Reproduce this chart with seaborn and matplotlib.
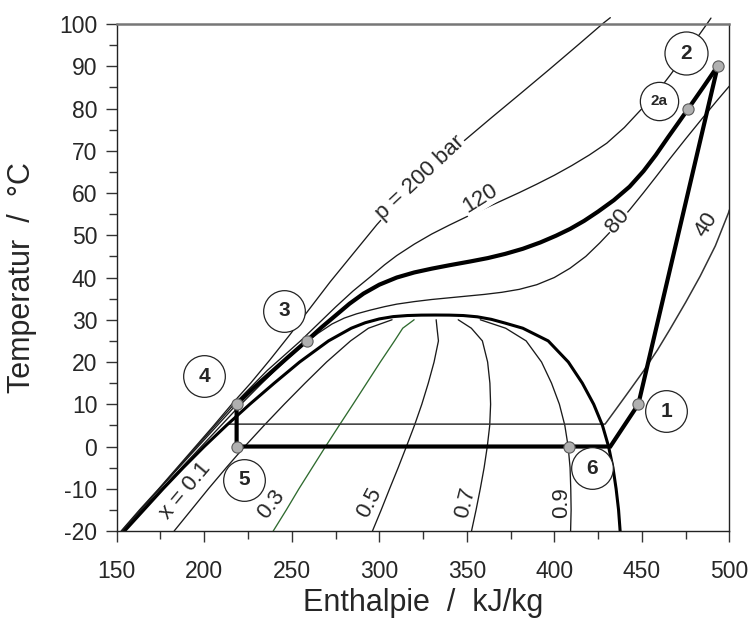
import numpy as np
import pandas as pd
import matplotlib
matplotlib.use("Agg")
import matplotlib.pyplot as plt
import seaborn as sns

# ---------------- data ----------------
# saturation dome (liquid side -> critical point -> vapour side)
dome_h = [154.5, 165.5, 176.5, 188, 200, 212.7, 226, 240, 254.5, 271, 284, 292, 300, 308,
          316, 324, 332, 340, 348, 356, 364, 372, 382, 396.5, 408, 416, 422.5, 427.5,
          431, 433.5, 435.3, 436.7, 437.6]
dome_T = [-20, -15, -10, -5, 0, 5, 10, 15, 20, 25, 28, 29.3, 30.2, 30.75,
          31.0, 31.1, 31.12, 31.1, 31.0, 30.7, 30.1, 29.2, 28, 25, 20, 15, 10, 5,
          0, -5, -10, -15, -20]

# lines of constant vapour quality x
q_T = [-20, -15, -10, -5, 0, 5, 10, 15, 20, 25, 28, 30]
q01_h = [182.8, 192.6, 202.4, 212.6, 223.1, 234.2, 245.7, 257.6, 269.9, 283.6, 293.8, 307.3]
q03_h = [239.4, 246.9, 254.1, 261.7, 269.3, 277.1, 285.0, 292.8, 300.6, 308.7, 313.4, 319.9]
q05_h = [296.1, 301.1, 305.9, 310.8, 315.5, 320.1, 324.3, 328.0, 331.3, 333.8, 333.0, 332.5]
q07_h = [352.7, 355.3, 357.7, 359.9, 361.7, 363.1, 363.6, 363.2, 361.9, 358.9, 352.6, 345.1]
q09_h = [409.3, 409.6, 409.4, 409.0, 407.9, 406.0, 402.9, 398.4, 392.7, 383.9, 372.2, 357.7]

# isobars
p200_h = [152.5, 163, 174, 184.5, 195, 205.5, 215.7, 226.5, 237.5, 249, 260, 272, 285,
          298.6, 311, 323.5, 336, 348, 364, 380, 397, 414, 428, 432]
p200_T = [-20, -15, -10, -5, 0, 5, 10, 15, 20.5, 26.5, 32.5, 39, 45.6,
          52.5, 58.2, 63.2, 67.9, 72.2, 77.8, 83.3, 89.2, 95.2, 100.2, 101.5]
p120_h = [153, 169, 185, 201, 217, 236, 255, 265, 275, 285, 295, 303, 310, 320, 330, 340,
          350, 360, 370, 380, 390, 400, 410, 420, 430, 440, 449, 458, 466, 474, 482,
          487.5, 489.5]
p120_T = [-20, -12.5, -5, 2.5, 10, 18, 25, 29, 33, 36.8, 40.2, 43, 45.2, 47.9, 50.3, 52.4,
          54.4, 56.3, 58.2, 60.1, 62.1, 64.2, 66.5, 69, 71.8, 75.5, 79.5, 83.5, 87.8, 92.3,
          97, 100.2, 101.4]
p100_liq_h = [153, 169, 185.5, 202, 218.5]
p100_liq_T = [-20, -12.5, -5, 2.5, 10]
p80_h = [153.5, 170, 187, 204, 221, 233, 245, 256, 265, 273, 280, 287, 295, 303, 310, 320,
         330, 340, 350, 360, 370, 380, 390, 400, 409, 418, 426, 434, 443, 451, 458, 466,
         475, 485, 493, 500]
p80_T = [-20, -12.5, -5, 2.5, 10, 15, 19.8, 23.8, 26.8, 29, 30.4, 31.4, 32.3, 33.1, 33.7,
         34.3, 34.8, 35.2, 35.6, 36.0, 36.5, 37.2, 38.3, 40, 42.2, 45, 48.2, 51.7, 56,
         60.1, 63.8, 68.1, 72.8, 77.9, 81.9, 85.3]
p40_h = [213.8, 429, 435, 442, 451, 459, 466, 475, 483.3, 492, 499.5, 500]
p40_T = [5.3, 5.3, 8.7, 12.7, 17.9, 22.9, 27.7, 34.1, 40.3, 47.5, 55.3, 56]

# cycle: gas cooler (100 bar) from 2 to 4, then 4-5-6-1-2
gc_h = [493.4, 485, 476.6, 471, 465, 458, 451, 443, 434, 425, 417, 409, 401, 392, 382,
        372, 362, 352, 340, 330, 320, 310, 300, 291, 283, 275, 267, 258.5, 248, 238,
        228, 218.5]
gc_T = [90.1, 85, 80, 76.7, 73.2, 69, 65.2, 61.5, 58.3, 55.6, 53.4, 51.5, 49.9, 48.3,
        46.8, 45.6, 44.6, 43.8, 42.9, 42.1, 41.2, 40.0, 38.3, 36.2, 33.8, 31, 28.2, 25,
        21.2, 17.5, 13.8, 10]
cyc_h = [218.5, 218.5, 408.6, 432, 448, 493.4]
cyc_T = [10, 0, 0, 0, 10, 90.1]

# state points
pt_names = ["1", "2", "2a", "3", "4", "5", "6"]
pt_h = [448, 493.4, 476.6, 258.5, 218.5, 218.5, 408.6]
pt_T = [10, 90.1, 80, 25, 10, 0, 0]
lab_h = [463.9, 475.3, 459.9, 245.6, 200.1, 222.9, 421.4]
lab_T = [8.3, 93.1, 81.7, 32.1, 16.6, -7.9, -5.1]

# ---------------- style ----------------
sns.set_theme(style="ticks")
plt.rcParams['font.family'] = ['Liberation Sans', 'DejaVu Sans']
plt.rcParams['axes.unicode_minus'] = False
plt.rcParams['axes.linewidth'] = 1.0

fig = plt.figure(figsize=(7.53, 6.30), dpi=100)
ax = fig.add_axes([0.155, 0.1571, 0.8136, 0.8048])

thin = dict(color="#1a1a1a", lw=0.95)

def curve(h, T, **kw):
    sns.lineplot(x=h, y=T, sort=False, estimator=None, ax=ax, legend=False, **kw)

# quality lines
curve(q01_h, q_T, **thin)
curve(q03_h, q_T, color="#2f6b2f", lw=0.95)
curve(q05_h, q_T, **thin)
curve(q07_h, q_T, **thin)
curve(q09_h, q_T, **thin)

# isobars
for h, T in [(p200_h, p200_T), (p120_h, p120_T), (p100_liq_h, p100_liq_T), (p80_h, p80_T)]:
    curve(h, T, clip_on=False, **thin)
curve(p40_h, p40_T, color="#333333", lw=1.1)

# dome
curve(dome_h, dome_T, color="black", lw=2.2)

# cycle
curve(gc_h, gc_T, color="black", lw=3.0, solid_capstyle="round")
curve(cyc_h, cyc_T, color="black", lw=3.0, solid_joinstyle="miter")

# state points
sns.scatterplot(x=pt_h, y=pt_T, ax=ax, s=65, color="#b0b0b0", edgecolor="#5a5a5a",
                linewidth=0.8, zorder=6, legend=False)

# circled labels
for name, h, T in zip(pt_names, lab_h, lab_T):
    if name == "2a":
        size, fs = 760, 11
    elif name == "2":
        size, fs = 960, 15
    else:
        size, fs = 900, 15
    ax.scatter([h], [T], s=size, facecolor="white", edgecolor="#222222", linewidth=0.9,
               zorder=7, clip_on=False)
    ax.text(h, T, name, ha="center", va="center", fontsize=fs, fontweight="bold",
            zorder=8)

# line labels
bb = dict(facecolor="white", edgecolor="none", pad=0.6)
lfs = 16
ax.text(323.3, 63.6, "p = 200 bar", rotation=43, fontsize=lfs, ha="center", va="center",
        rotation_mode="anchor", bbox=bb, zorder=5)
ax.text(357.6, 58.6, "120", rotation=32, fontsize=lfs, ha="center", va="center",
        rotation_mode="anchor", bbox=bb, zorder=5)
ax.text(436.0, 53.3, "80", rotation=50, fontsize=lfs, ha="center", va="center",
        rotation_mode="anchor", bbox=bb, zorder=5)
ax.text(487.0, 52.6, "40", rotation=58, fontsize=lfs, ha="center", va="center",
        rotation_mode="anchor", zorder=5)
ax.text(189.5, -10.5, "x = 0.1", rotation=50, fontsize=lfs, ha="center", va="center",
        rotation_mode="anchor")
ax.text(238.5, -13.6, "0.3", rotation=52, fontsize=lfs, ha="center", va="center",
        rotation_mode="anchor")
ax.text(294.2, -13.2, "0.5", rotation=62, fontsize=lfs, ha="center", va="center",
        rotation_mode="anchor")
ax.text(349.0, -13.2, "0.7", rotation=76, fontsize=lfs, ha="center", va="center",
        rotation_mode="anchor")
ax.text(404.0, -13.2, "0.9", rotation=90, fontsize=lfs, ha="center", va="center",
        rotation_mode="anchor")

# axes
ax.set_xlim(150, 500)
ax.set_ylim(-20, 100)
ax.set_xticks(np.arange(150, 501, 50))
ax.set_xticks(np.arange(175, 500, 50), minor=True)
ax.set_yticks(np.arange(-20, 101, 10))
ax.set_yticks(np.arange(-15, 100, 10), minor=True)
ax.tick_params(which="major", direction="out", length=8, width=1, labelsize=16.5,
               color="#333333")
ax.tick_params(which="minor", direction="out", length=6, width=1, color="#333333")
ax.tick_params(axis="x", which="major", pad=13)
ax.tick_params(axis="y", which="major", pad=6)
for s in ["left", "bottom", "right"]:
    ax.spines[s].set_color("#222222")
    ax.spines[s].set_linewidth(1.0)
ax.spines["top"].set_color("#777777")
ax.spines["top"].set_linewidth(1.8)

ax.set_xlabel("Enthalpie  /  kJ/kg", fontsize=22)
ax.set_ylabel("Temperatur  /  °C", fontsize=22)
ax.xaxis.set_label_coords(0.5, -0.112)
ax.yaxis.set_label_coords(-0.13, 0.5)

fig.savefig("out.png", dpi=100)
